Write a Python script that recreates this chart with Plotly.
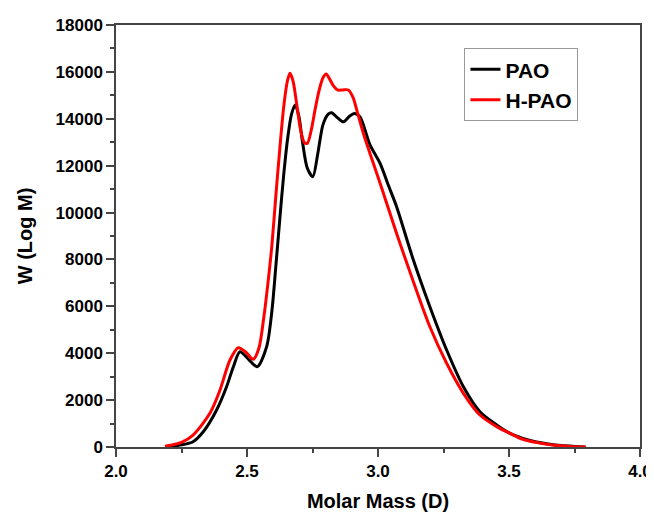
import plotly.graph_objects as go

# PAO (black) curve
pao_x = [2.19, 2.25, 2.294, 2.333, 2.384, 2.422, 2.448, 2.473, 2.505, 2.539,
         2.575, 2.595, 2.610, 2.625, 2.640, 2.655, 2.670, 2.684, 2.698, 2.712,
         2.730, 2.751, 2.770, 2.790, 2.810, 2.823, 2.845, 2.868, 2.890, 2.910,
         2.931, 2.969, 3.008, 3.040, 3.071, 3.135, 3.198, 3.262, 3.326, 3.389,
         3.453, 3.504, 3.55, 3.60, 3.65, 3.70, 3.75, 3.79]
pao_y = [0, 90, 225, 650, 1580, 2570, 3425, 4065, 3750, 3425,
         4280, 5800, 7700, 9700, 11600, 13150, 14200, 14590, 14100, 13000,
         11900, 11530, 12500, 13750, 14200, 14260, 14050, 13870, 14100, 14230,
         14090, 12900, 12100, 11150, 10250, 7975, 5985, 4137, 2570, 1505,
         940, 580, 380, 230, 130, 60, 25, 5]

# H-PAO (red) curve
hpao_x = [2.187, 2.25, 2.294, 2.359, 2.397, 2.435, 2.467, 2.495, 2.524, 2.545,
          2.565, 2.580, 2.595, 2.610, 2.625, 2.640, 2.654, 2.664, 2.676, 2.690,
          2.705, 2.718, 2.730, 2.745, 2.760, 2.775, 2.790, 2.802, 2.815, 2.830,
          2.845, 2.865, 2.887, 2.905, 2.919, 2.944, 2.970, 3.008, 3.071, 3.135,
          3.198, 3.262, 3.326, 3.389, 3.453, 3.504, 3.55, 3.60, 3.65, 3.70,
          3.75, 3.794]
hpao_y = [30, 200, 510, 1450, 2430, 3710, 4235, 4050, 3740, 4200,
          5600, 7000, 8600, 10700, 12700, 14500, 15600, 15940, 15600, 14600,
          13500, 13000, 12950, 13500, 14400, 15200, 15750, 15910, 15700, 15400,
          15230, 15230, 15230, 14900, 14370, 13380, 12500, 11250, 9110, 7050,
          5130, 3570, 2290, 1365, 870, 580, 340, 200, 110, 50,
          15, 0]

font_name = "Liberation Sans, Arial, sans-serif"

fig = go.Figure()
fig.add_trace(go.Scatter(x=pao_x, y=pao_y, mode="lines", name="PAO",
                         line=dict(color="#000000", width=3, shape="spline", smoothing=0.8)))
fig.add_trace(go.Scatter(x=hpao_x, y=hpao_y, mode="lines", name="H-PAO",
                         line=dict(color="#ff0000", width=3, shape="spline", smoothing=0.8)))

axis_common = dict(
    showline=True, linecolor="#444444", linewidth=1.5, mirror=True,
    showgrid=False, zeroline=False, automargin=False,
    ticks="outside", ticklen=8, tickwidth=1.5, tickcolor="#444444",
    tickfont=dict(family=font_name, size=17, color="black", weight="bold"),
)

fig.update_xaxes(range=[2.0, 4.0], tickvals=[2.0, 2.5, 3.0, 3.5, 4.0],
                 ticktext=["2.0", "2.5", "3.0", "3.5", "4.0"],
                 minor=dict(dtick=0.25, ticks="outside", ticklen=4, tickwidth=1.5, tickcolor="#444444"),
                 title=dict(text="Molar Mass (D)", standoff=14,
                            font=dict(family=font_name, size=20, color="black", weight="bold")),
                 **axis_common)
fig.update_yaxes(range=[0, 18000], dtick=2000, tickformat="d",
                 minor=dict(dtick=1000, ticks="outside", ticklen=4, tickwidth=1.5, tickcolor="#444444"),
                 title=dict(text="W (Log M)", standoff=18,
                            font=dict(family=font_name, size=20, color="black", weight="bold")),
                 **axis_common)

# the page body has an 8px margin, so the figure is sized to fit what is left
fig.update_layout(
    width=646, height=505,
    margin=dict(l=108, r=14, t=17, b=66),
    plot_bgcolor="white", paper_bgcolor="white",
    legend=dict(x=0.665, y=0.945, xanchor="left", yanchor="top",
                bgcolor="white", bordercolor="#999999", borderwidth=1,
                font=dict(family=font_name, size=21, color="black", weight="bold"),
                tracegroupgap=0),
)

fig.write_html("out.html")
